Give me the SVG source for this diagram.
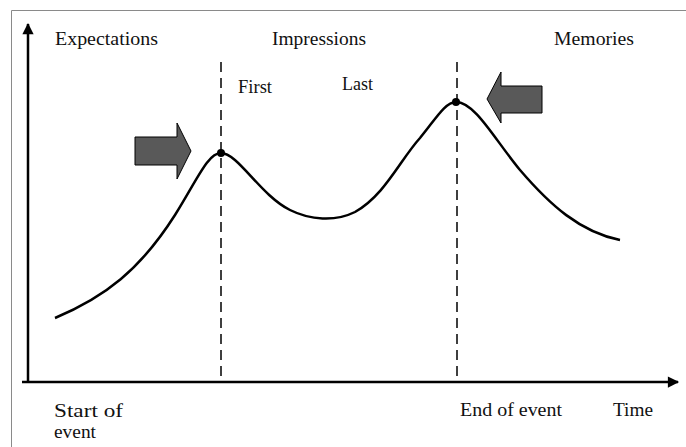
<svg xmlns="http://www.w3.org/2000/svg" width="686" height="447" viewBox="0 0 686 447">
<style>
text{font-family:'Liberation Serif','Times New Roman','DejaVu Serif',serif;font-size:19px;fill:#111}
.ax{stroke:#000;stroke-width:2.5;fill:none}
.dash{stroke:#000;stroke-width:1.5;stroke-dasharray:10 6;fill:none}
.big{fill:#595959;stroke:#000;stroke-width:1}
</style>
<defs>
<marker id="ah" viewBox="0 0 10 10" refX="9" refY="5" markerWidth="5" markerHeight="4.5" orient="auto" markerUnits="strokeWidth">
<path d="M0,0 L10,5 L0,10 Z" fill="#000"/>
</marker>
</defs>
<rect width="686" height="447" fill="#fff"/>
<path d="M686,10.5 H11.5 V447" fill="none" stroke="#8a8a8a" stroke-width="1"/>
<g id="connectors">
<line class="ax" x1="28" y1="383" x2="28" y2="24" marker-end="url(#ah)"/>
<line class="ax" x1="22" y1="382" x2="678" y2="382" marker-end="url(#ah)"/>
<line class="dash" x1="221" y1="62" x2="221" y2="382"/>
<line class="dash" x1="457" y1="62" x2="457" y2="382"/>
<path id="curve" d="M55,318 C105,297 140,270 175,215 C198,178 208,153 221,153 C238,153 260,195 290,210 C310,220 335,222 355,212 C385,195 400,160 420,138 C435,120 445,102 456,102 C475,102 495,140 520,170 C550,205 580,232 620,240" fill="none" stroke="#000" stroke-width="2.5"/>
</g>
<g id="dot1"><circle cx="221" cy="153" r="4" fill="#000"/></g>
<g id="dot2"><circle cx="456" cy="102" r="4" fill="#000"/></g>
<g id="arrow-first"><path class="big" d="M135,137 H177 V123 L191,151 L177,179 V165 H135 Z"/></g>
<g id="arrow-last"><path class="big" d="M542,86 H501 V72 L487,99 L501,123 V113 H542 Z"/></g>
<g id="labels" font-family="Liberation Serif, serif">
<text x="55" y="45" textLength="103" lengthAdjust="spacingAndGlyphs">Expectations</text>
<text x="272" y="45" textLength="94" lengthAdjust="spacingAndGlyphs">Impressions</text>
<text x="554" y="45" textLength="80" lengthAdjust="spacingAndGlyphs">Memories</text>
<text x="238" y="93" textLength="34" lengthAdjust="spacingAndGlyphs">First</text>
<text x="342" y="90" textLength="31" lengthAdjust="spacingAndGlyphs">Last</text>
<text x="54" y="417" textLength="69" lengthAdjust="spacingAndGlyphs">Start of</text>
<text x="54" y="438" textLength="42" lengthAdjust="spacingAndGlyphs">event</text>
<text x="460" y="416" textLength="102" lengthAdjust="spacingAndGlyphs">End of event</text>
<text x="613" y="416" textLength="40" lengthAdjust="spacingAndGlyphs">Time</text>
</g>
</svg>
